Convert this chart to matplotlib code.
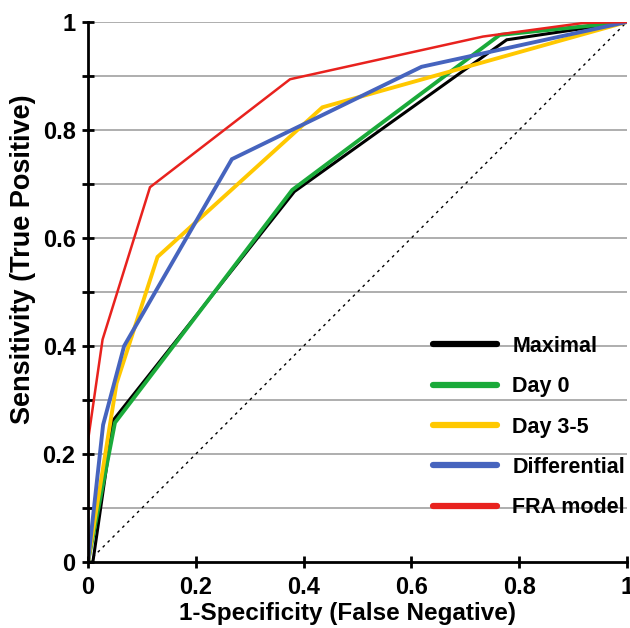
import matplotlib.pyplot as plt

plt.rcParams['font.family'] = ['Liberation Sans', 'DejaVu Sans']

# ROC curve points
maximal_x = [0.0, 0.009, 0.047, 0.383, 0.777, 1.0]
maximal_y = [0.0, 0.0, 0.263, 0.686, 0.967, 1.0]
day0_x = [0.0, 0.050, 0.379, 0.764, 1.0]
day0_y = [0.0, 0.258, 0.689, 0.976, 1.0]
day35_x = [0.0, 0.053, 0.129, 0.435, 1.0]
day35_y = [0.0, 0.331, 0.565, 0.842, 1.0]
diff_x = [0.0, 0.028, 0.067, 0.267, 0.619, 1.0]
diff_y = [0.0, 0.254, 0.400, 0.746, 0.917, 1.0]
fra_x = [0.0, 0.0, 0.027, 0.115, 0.375, 0.733, 0.918, 1.0]
fra_y = [0.0, 0.225, 0.412, 0.694, 0.894, 0.973, 0.998, 1.0]

labels = ['Maximal', 'Day 0', 'Day 3-5', 'Differential', 'FRA model']
colors = ['#000000', '#1aaa3a', '#ffc800', '#4664be', '#e8221e']
widths = [2.2, 2.8, 2.8, 2.8, 1.8]
series = [(maximal_x, maximal_y), (day0_x, day0_y), (day35_x, day35_y),
          (diff_x, diff_y), (fra_x, fra_y)]

fig = plt.figure(figsize=(6.3, 6.28), dpi=100)
ax = fig.add_axes([0.1397, 0.105, 0.8553, 0.86])

for v in [i / 10 for i in range(1, 11)]:
    ax.axhline(v, color='#a8a8a8', lw=1.3, zorder=0)

ax.plot([0, 1], [0, 1], color='black', lw=1.0, ls=(0, (2, 3)), zorder=1)

handles = []
for (xs, ys), lab, c, w in zip(series, labels, colors, widths):
    ax.plot(xs, ys, color=c, lw=w, zorder=2, solid_joinstyle='miter')
    h, = ax.plot([], [], color=c, lw=4.5, solid_capstyle='round', label=lab)
    handles.append(h)

ax.set_xlim(0, 1)
ax.set_ylim(0, 1)
ax.spines['top'].set_visible(False)
ax.spines['right'].set_visible(False)
ax.spines['left'].set_linewidth(2)
ax.spines['bottom'].set_linewidth(2)
ax.set_xticks([0, 0.2, 0.4, 0.6, 0.8, 1])
ax.set_xticklabels(['0', '0.2', '0.4', '0.6', '0.8', '1'])
ax.set_yticks([i / 10 for i in range(11)])
ax.set_yticklabels(['0', '', '0.2', '', '0.4', '', '0.6', '', '0.8', '', '1'])
ax.tick_params(direction='inout', length=8, width=2, labelsize=17)
ax.tick_params(axis='x', pad=6)
ax.tick_params(axis='y', pad=5)
for t in ax.get_xticklabels() + ax.get_yticklabels():
    t.set_fontweight('bold')

ax.set_xlabel('1-Specificity (False Negative)', fontsize=17.5, fontweight='bold')
ax.set_ylabel('Sensitivity (True Positive)', fontsize=19.5, fontweight='bold')
ax.xaxis.set_label_coords(0.482, -0.074)
ax.yaxis.set_label_coords(-0.096, 0.56)

leg = ax.legend(handles=handles, loc='lower right', bbox_to_anchor=(1.013, 0.065),
                frameon=False, prop={'weight': 'bold', 'size': 15.5}, borderaxespad=0,
                handlelength=3.0, handletextpad=0.7, labelspacing=0.9)

fig.savefig('out.png', dpi=100)
